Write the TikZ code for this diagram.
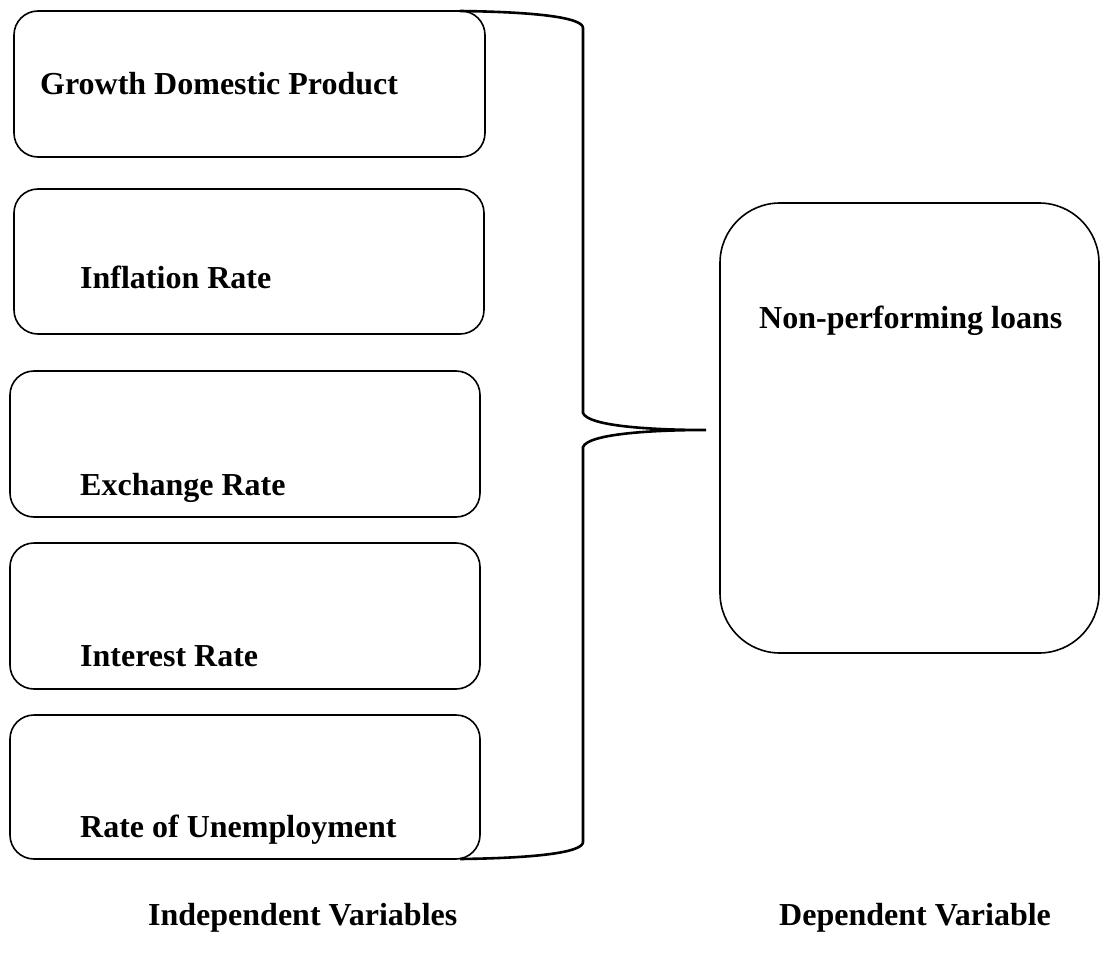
\documentclass[tikz,border=0pt]{standalone}
\usepackage{fontspec}
\setmainfont{Liberation Serif}
\begin{document}
\begin{tikzpicture}[x=1pt,y=-1pt,
  box/.style={draw=black,line width=1.6pt,rounded corners=24pt},
  bigbox/.style={draw=black,line width=1.6pt,rounded corners=60pt},
  lbl/.style={anchor=base west,inner sep=0pt,font=\fontsize{32}{38}\selectfont\bfseries},
  brace/.style={draw=black,line width=2.6pt}]
\useasboundingbox (0,0) rectangle (1101,958);
% boxes
\draw[box] (14,11) rectangle (485,157);
\draw[box] (14,189) rectangle (484,334);
\draw[box] (10,371) rectangle (480,517);
\draw[box] (10,543) rectangle (480,689);
\draw[box] (10,715) rectangle (480,859);
\draw[bigbox] (720,203) rectangle (1099,653);
% labels
\node[lbl] (gdp) at (40,95) {Growth Domestic Product};
\node[lbl] (inf) at (80,288) {Inflation Rate};
\node[lbl] (exr) at (80,495) {Exchange Rate};
\node[lbl] (int) at (80,666) {Interest Rate};
\node[lbl] (une) at (80,837) {Rate of Unemployment};
\node[lbl] (npl) at (759,328) {Non-performing loans};
\node[lbl] (iv) at (148,925) {Independent Variables};
\node[lbl] (dv) at (779,925) {Dependent Variable};
% brace
\coordinate (bt) at (460,11);
\coordinate (bb) at (460,859);
\coordinate (tip) at (706,430);
\draw[brace] (bt) .. controls (540,12) and (583,18) .. (583,28)
  -- (583,413) .. controls (588,426) and (650,430) .. (tip)
  .. controls (650,430) and (588,434) .. (583,447)
  -- (583,842) .. controls (583,852) and (540,858) .. (bb);
\end{tikzpicture}
\end{document}
